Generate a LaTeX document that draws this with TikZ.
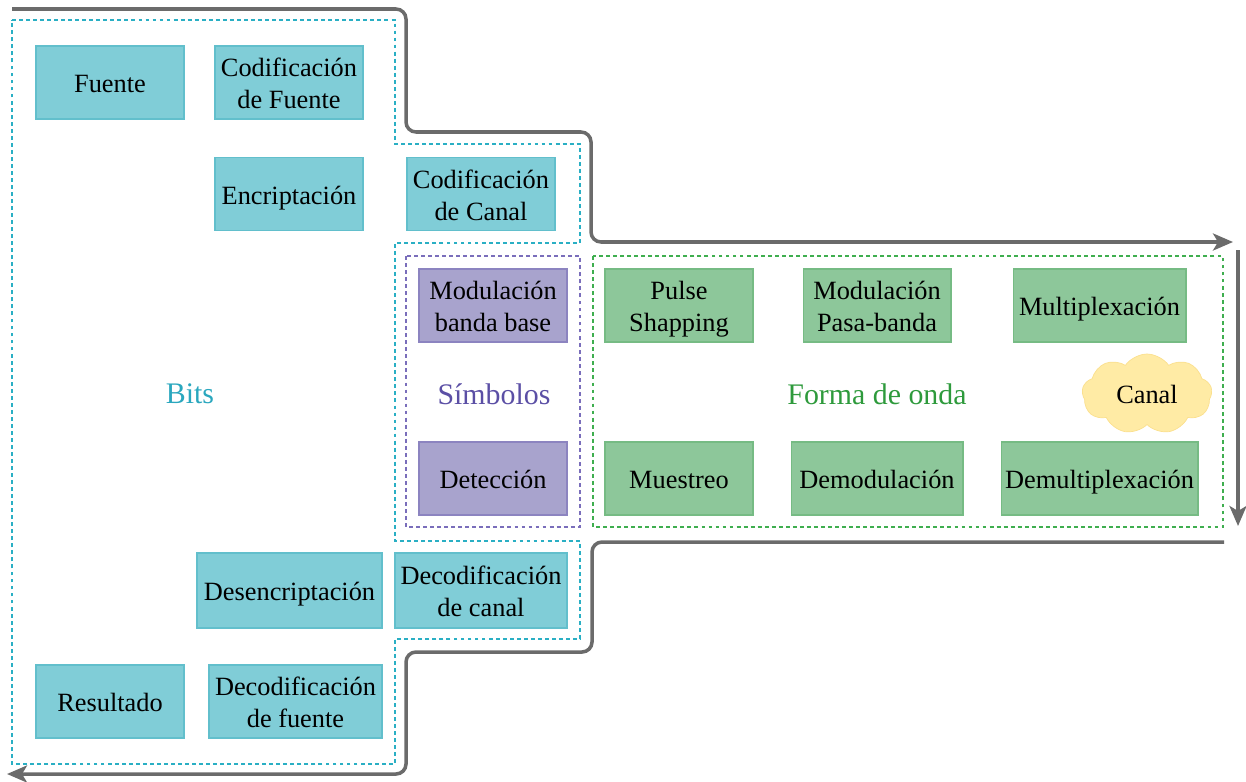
\documentclass[tikz,border=0pt]{standalone}
\usepackage{fontspec}
\setmainfont{Liberation Serif}
\usetikzlibrary{shapes.symbols}
\usetikzlibrary{arrows.meta}

\definecolor{bitfill}{HTML}{80CDD7}
\definecolor{bitline}{HTML}{62BFCC}
\definecolor{bitdash}{HTML}{2AAFC4}
\definecolor{bittext}{HTML}{2AA7BE}
\definecolor{symfill}{HTML}{A8A3CD}
\definecolor{symline}{HTML}{8C84C0}
\definecolor{symdash}{HTML}{7A6EBB}
\definecolor{symtext}{HTML}{5B4FA5}
\definecolor{wavefill}{HTML}{8DC79A}
\definecolor{waveline}{HTML}{76BB84}
\definecolor{wavedash}{HTML}{3FAE4F}
\definecolor{wavetext}{HTML}{2E9A3C}
\definecolor{cloudfill}{HTML}{FFEBA5}
\definecolor{cloudline}{HTML}{FBE08E}
\definecolor{flowgray}{HTML}{6B6B6B}

\tikzset{
  blockbox/.style={rectangle,inner sep=0pt,minimum width=2.96cm,minimum height=1.46cm,
    font=\fontsize{15}{18.2}\selectfont,text=black,align=center,line width=0.6pt},
  oneline/.style={text height=14.5pt,text depth=3pt},
  twoline/.style={text height=33pt,text depth=3pt},
  bitbox/.style={blockbox,fill=bitfill,draw=bitline},
  symbox/.style={blockbox,fill=symfill,draw=symline},
  wavebox/.style={blockbox,fill=wavefill,draw=waveline},
  zonedash/.style={line width=0.8pt,dash pattern=on 2.2pt off 1.8pt},
  zonelabel/.style={font=\fontsize{17}{20}\selectfont,anchor=center},
  flowline/.style={draw=flowgray,line width=2pt,rounded corners=0.2cm},
  flowtip/.style={-{Stealth[length=0.4cm,width=0.34cm,inset=0.1cm,fill=flowgray]}}
}

\begin{document}
\begin{tikzpicture}[x=0.02cm,y=-0.02cm]
\useasboundingbox (0,0) rectangle (1246,781);

\draw[zonedash,draw=bitdash] (12,20) -- (395,20) -- (395,144) -- (580,144) -- (580,243) -- (395,243)
  -- (395,541) -- (580,541) -- (580,639) -- (395,639) -- (395,764) -- (12,764) -- cycle;
\draw[zonedash,draw=symdash] (406,256) rectangle (580,527);
\draw[zonedash,draw=wavedash] (593,256) rectangle (1223,527);

\draw[flowline,flowtip] (12,9) -- (406,9) -- (406,132) -- (591,132) -- (591,242) -- (1233,242);
\draw[flowline,flowtip] (1238,250) -- (1238,526);
\draw[flowline,flowtip] (1224,542) -- (592,542) -- (592,652) -- (406,652) -- (406,774) -- (7,774);

\node[bitbox,oneline] (fuente) at (110,82.5) {Fuente};
\node[bitbox,twoline] (codfuente) at (289,82.5) {Codificación\\de Fuente};
\node[bitbox,oneline] (encrip) at (289,194) {Encriptación};
\node[bitbox,twoline] (codcanal) at (481,194) {Codificación\\de Canal};

\node[symbox,twoline] (modbb) at (493,305.5) {Modulación\\banda base};
\node[symbox,oneline] (deteccion) at (493,478.5) {Detección};

\node[wavebox,twoline] (pulse) at (679,305.5) {Pulse\\Shapping};
\node[wavebox,twoline] (modpb) at (877,305.5) {Modulación\\Pasa-banda};
\node[wavebox,oneline,minimum width=3.46cm] (mux) at (1099.5,305.5) {Multiplexación};
\node[wavebox,oneline] (muestreo) at (679,478.5) {Muestreo};
\node[wavebox,oneline,minimum width=3.44cm] (demod) at (877,478.5) {Demodulación};
\node[wavebox,oneline,minimum width=3.94cm] (demux) at (1099.5,478.5) {Demultiplexación};

\node[cloud,cloud puffs=9,cloud puff arc=110,aspect=1.6,minimum width=2.6cm,minimum height=1.6cm,
  inner sep=0pt,fill=cloudfill,draw=cloudline,font=\fontsize{15}{18}\selectfont] (canal) at (1147,394) {Canal};

\node[bitbox,oneline,minimum width=3.7cm,minimum height=1.5cm] (desencrip) at (289.5,590.5) {Desencriptación};
\node[bitbox,twoline,minimum width=3.44cm,minimum height=1.5cm] (deccanal) at (481,590.5) {Decodificación\\de canal};
\node[bitbox,oneline] (resultado) at (110,701.5) {Resultado};
\node[bitbox,twoline,minimum width=3.46cm] (decfuente) at (295.5,701.5) {Decodificación\\de fuente};

\node[zonelabel,text=bittext] (bits) at (190,394) {Bits};
\node[zonelabel,text=symtext] (simbolos) at (494,394) {Símbolos};
\node[zonelabel,text=wavetext] (onda) at (877,394) {Forma de onda};

\end{tikzpicture}
\end{document}
